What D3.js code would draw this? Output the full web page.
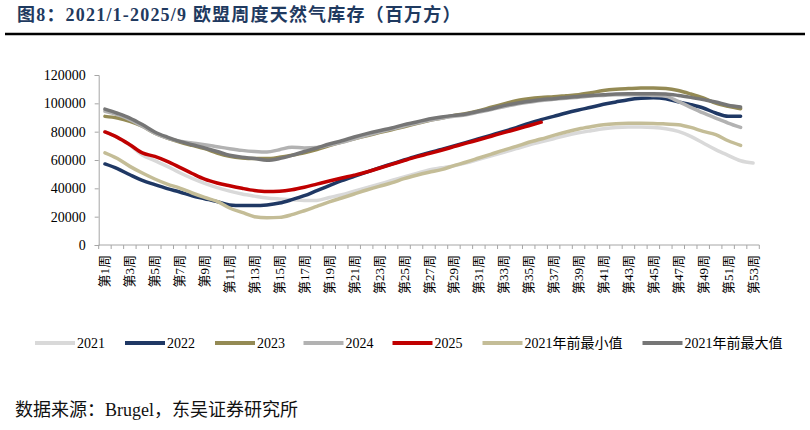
<!DOCTYPE html>
<html>
<head>
<meta charset="utf-8">
<script src="https://cdn.jsdelivr.net/npm/d3@7"></script>
<style>
  body { margin: 0; background: #fff; }
  text { font-family: "Liberation Serif", "Times New Roman", "Noto Sans CJK SC", serif; }
</style>
</head>
<body>
<div id="container"></div>
<script>
/* CONSTANTS AND GLOBALS */
const width = 810,
  height = 430;
const margin = { top: 75, bottom: 185, left: 98.7, right: 50.7 };

/* DATA (million m3, weekly) */
const weeks = d3.range(1, 54);
const yTicks = [0, 20000, 40000, 60000, 80000, 100000, 120000];

const s2021 = [80000, 76000, 70500, 63500, 59500, 55500, 51000, 47000, 43500, 40500, 38000, 36000, 34500, 33200, 32500, 32000, 31500, 31500,
  33500, 35500, 38000, 40500, 43000, 45500, 48000, 50500, 53000, 54500, 56000, 58000, 60500, 63000, 65500, 68000, 70500, 72800,
  75000, 77300, 79200, 80700, 82100, 83000, 83300, 83300, 83000, 82100, 80200, 76700, 72000, 67300, 63300, 59500, 57900];
const s2022 = [57200, 53900, 49600, 45600, 42600, 39800, 37400, 34800, 32700, 30600, 28300, 27800, 27800, 28300, 29600, 32000, 34800, 38400,
  41900, 45400, 48500, 51500, 54400, 57200, 60000, 62700, 65200, 67500, 69900, 72400, 75000, 77600, 80200, 82900, 85800, 88500,
  90800, 93200, 95300, 97200, 99300, 101000, 102600, 103600, 104000, 103300, 101000, 99100, 96700, 93200, 90800, 90800];
const s2023 = [90800, 89600, 87300, 83800, 79000, 75500, 72700, 70300, 68000, 64900, 62600, 61400, 61000, 61000, 61900, 63300, 65000, 67300,
  70100, 72700, 75000, 77100, 79300, 81400, 83500, 85700, 87800, 89600, 91500, 92900, 94800, 97200, 99500, 101900, 103300, 104200,
  104700, 105400, 106100, 107500, 109000, 109900, 110400, 110800, 110800, 110400, 109000, 106600, 103800, 100200, 97900, 96200];
const s2024 = [94400, 92000, 88500, 83800, 79000, 75500, 73200, 72000, 70800, 69400, 68000, 66800, 66000, 65600, 67300, 69000, 68500, 68800,
  70500, 72500, 75000, 77500, 79800, 81800, 84000, 86000, 88000, 89500, 90800, 92000, 93800, 95600, 97600, 99400, 100800, 102000,
  102800, 103600, 104300, 105200, 105600, 106100, 106100, 106100, 105600, 104900, 101400, 97200, 93200, 89600, 86100, 83000];
const s2025 = [79800, 76000, 70800, 65000, 62500, 59000, 54800, 50500, 46500, 43800, 41800, 40000, 38500, 37800, 38000, 39000, 40800, 43000,
  45200, 47300, 49300, 51500, 54200, 56900, 59600, 62200, 64500, 66900, 69400, 71900, 74300, 76800, 79300, 81700, 84200, 86700];
const sMin = [65000, 61000, 55500, 50800, 46600, 43000, 40200, 36700, 33600, 30800, 26100, 23000, 20000, 19200, 19500, 21400, 24200, 27300,
  30400, 33200, 36000, 38800, 41400, 43800, 46800, 49200, 51300, 53200, 56000, 58600, 61400, 64200, 67000, 69600, 72500, 74800,
  77400, 79800, 81900, 83500, 84900, 85600, 85900, 85900, 85800, 85400, 84900, 83000, 80200, 77900, 73600, 70300];
const sMax = [95900, 93000, 89600, 85000, 79800, 76200, 73200, 70800, 68500, 66000, 63300, 61900, 61000, 59800, 61000, 63300, 66000, 68500,
  71300, 73600, 76200, 78600, 80700, 82600, 85000, 86800, 89000, 90400, 91500, 92500, 94400, 96200, 98400, 100000, 101400, 102600,
  103300, 104200, 104900, 105600, 106100, 106600, 106800, 106800, 106800, 106600, 105600, 104200, 102600, 100900, 98600, 97400];

const seriesNames = ["2021", "2022", "2023", "2024", "2025", "2021年前最小值", "2021年前最大值"];
const seriesValues = [s2021, s2022, s2023, s2024, s2025, sMin, sMax];
const colors = ["#d9d9d9", "#1f3864", "#948a54", "#b2b2b2", "#c00000", "#c4bd97", "#767676"];

// legend x positions (line start)
const legendX = [35, 125, 215, 303.5, 392.5, 482.5, 642.5];

const series = seriesNames.map((name, i) => ({
  name: name,
  color: colors[i],
  values: seriesValues[i].map((v, j) => ({ week: weeks[j], value: v }))
}));

/* SCALES */
const xScale = d3.scaleBand()
  .domain(weeks)
  .range([margin.left, width - margin.right])
  .padding(0);

const yScale = d3.scaleLinear()
  .domain([0, 120000])
  .range([height - margin.bottom, margin.top]);

const xc = d => xScale(d) + xScale.bandwidth() / 2;

/* HTML ELEMENTS */
const svg = d3.select("#container")
  .append("svg")
  .attr("width", width)
  .attr("height", height);

svg.append("rect").attr("width", width).attr("height", height).attr("fill", "#fff");

// title
svg.append("text")
  .attr("x", 17)
  .attr("y", 21)
  .attr("font-size", 18)
  .attr("font-weight", "bold")
  .attr("letter-spacing", 1.2)
  .attr("fill", "#1f3a60")
  .text("图8：2021/1-2025/9 欧盟周度天然气库存（百万方）");

svg.append("line")
  .attr("x1", 5).attr("x2", 805)
  .attr("y1", 34).attr("y2", 34)
  .attr("stroke", "#000")
  .attr("stroke-width", 2.5);

// y axis
const yAxis = d3.axisLeft(yScale).tickValues(yTicks).tickSize(4).tickFormat(d3.format("d"));
const gy = svg.append("g")
  .attr("transform", `translate(${margin.left},0)`)
  .call(yAxis);
gy.select(".domain").attr("stroke", "#a6a6a6");
gy.selectAll(".tick line").attr("stroke", "#a6a6a6");
gy.selectAll(".tick text")
  .attr("x", -13)
  .attr("font-size", 14)
  .attr("font-family", "Liberation Serif, serif")
  .attr("fill", "#000");

// x axis
const x0 = xScale.range()[0], x1 = xScale.range()[1];
const y0 = yScale(0);
svg.append("line")
  .attr("x1", x0).attr("x2", x1)
  .attr("y1", y0).attr("y2", y0)
  .attr("stroke", "#a6a6a6");

svg.selectAll(".xtick")
  .data(weeks.concat([54]))
  .join("line")
  .attr("class", "xtick")
  .attr("x1", d => d <= 53 ? xScale(d) : x1)
  .attr("x2", d => d <= 53 ? xScale(d) : x1)
  .attr("y1", y0).attr("y2", y0 + 4)
  .attr("stroke", "#a6a6a6");

svg.selectAll(".xlabel")
  .data(weeks.filter(d => d % 2 === 1))
  .join("text")
  .attr("class", "xlabel")
  .attr("transform", d => `translate(${xc(d)},${y0 + 10}) rotate(-90)`)
  .attr("text-anchor", "end")
  .attr("dy", "0.35em")
  .attr("font-size", 13)
  .text(d => `第${d}周`);

// lines
const line = d3.line()
  .x(d => xc(d.week))
  .y(d => yScale(d.value))
  .curve(d3.curveMonotoneX);

svg.selectAll(".series")
  .data(series)
  .join("path")
  .attr("class", "series")
  .attr("d", d => line(d.values))
  .attr("fill", "none")
  .attr("stroke", d => d.color)
  .attr("stroke-width", 3.5)
  .attr("stroke-linejoin", "round")
  .attr("stroke-linecap", "round");

// legend
const legendY = 343;
const lg = svg.selectAll(".legend")
  .data(series)
  .join("g")
  .attr("class", "legend")
  .attr("transform", (d, i) => `translate(${legendX[i]},${legendY})`);

lg.append("line")
  .attr("x1", 0).attr("x2", 40)
  .attr("stroke", d => d.color)
  .attr("stroke-width", 4);

lg.append("text")
  .attr("x", 42)
  .attr("dy", "0.35em")
  .attr("font-size", 14)
  .text(d => d.name);

// source
svg.append("text")
  .attr("x", 15)
  .attr("y", 416)
  .attr("font-size", 18)
  .attr("fill", "#111")
  .text("数据来源：Brugel，东吴证券研究所");
</script>
</body>
</html>
